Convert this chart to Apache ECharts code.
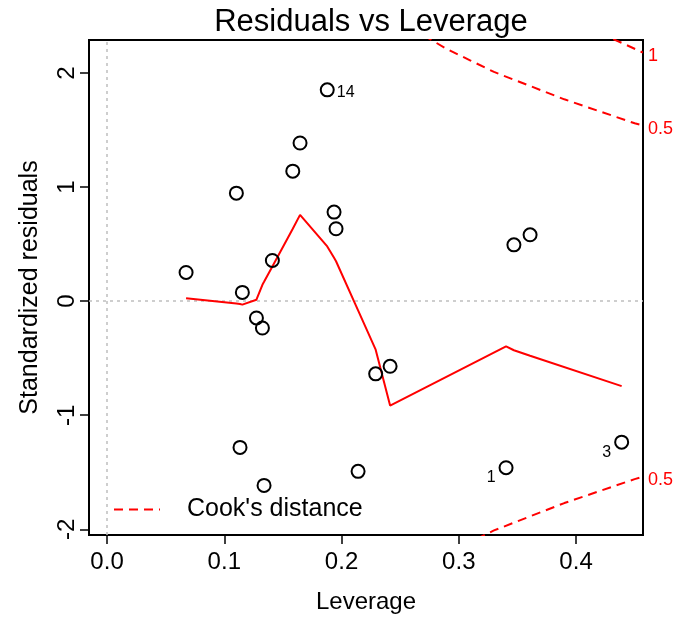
<!DOCTYPE html>
<html>
<head>
<meta charset="utf-8">
<script src="https://cdn.jsdelivr.net/npm/echarts@6/dist/echarts.min.js"></script>
<style>html,body{margin:0;padding:0;background:#fff}#c{width:691px;height:619px}</style>
</head>
<body>
<div id="c"></div>
<script>
// Observations: leverage (x) and standardized residuals (y)
const leverage  = [0.0674, 0.1103, 0.1134, 0.1154, 0.1274, 0.1325, 0.1339, 0.1410, 0.1584, 0.1646, 0.1878, 0.1936, 0.1953, 0.2141, 0.2291, 0.2414, 0.3403, 0.3470, 0.3608, 0.4389];
const residuals = [0.252, 0.947, -1.282, 0.077, -0.147, -0.235, -1.615, 0.357, 1.140, 1.387, 1.853, 0.781, 0.635, -1.492, -0.637, -0.571, -1.460, 0.494, 0.582, -1.236];
// Labelled observations (index into arrays above -> label text)
const pointLabels = { 10: "14", 16: "1", 19: "3" };

// Smoother (red line)
const smoothX = [0.0674, 0.1103, 0.1134, 0.1154, 0.1274, 0.1325, 0.1339, 0.1410, 0.1584, 0.1646, 0.1878, 0.1936, 0.1953, 0.2141, 0.2291, 0.2414, 0.3403, 0.3470, 0.3608, 0.4389];
const smoothY = [0.025, -0.021, -0.025, -0.030, 0.013, 0.144, 0.170, 0.305, 0.635, 0.757, 0.480, 0.380, 0.350, -0.080, -0.425, -0.915, -0.396, -0.430, -0.479, -0.745];

// Cook's distance contours
const cookLev      = [0.27, 0.29, 0.31, 0.33, 0.35, 0.37, 0.39, 0.41, 0.43, 0.45, 0.457];
const cook05Upper  = [2.33, 2.21, 2.11, 2.01, 1.93, 1.85, 1.77, 1.70, 1.63, 1.56, 1.54];
const cook05Lower  = [-2.33, -2.21, -2.11, -2.01, -1.93, -1.85, -1.77, -1.70, -1.63, -1.56, -1.54];
const cook1Lev     = [0.42, 0.44, 0.457];
const cook1Upper   = [2.35, 2.26, 2.18];

const xTicks = [0, 0.1, 0.2, 0.3, 0.4];
const yTicks = [-2, -1, 0, 1, 2];

const zip = (a, b) => a.map((v, i) => [v, b[i]]);
const FONT = "Liberation Sans, Arial, Helvetica, sans-serif";

const chart = echarts.init(document.getElementById('c'), null, { renderer: 'canvas' });

const scatterData = leverage.map((x, i) => {
  const item = { value: [x, residuals[i]] };
  const lab = pointLabels[i];
  if (lab !== undefined) {
    const right = lab === "14";
    item.label = {
      show: true,
      formatter: lab,
      position: right ? 'right' : 'left',
      distance: right ? 2 : 3,
      offset: right ? [0, 3] : [0, 10],
      color: '#000',
      opacity: 1,
      fontSize: 16,
      fontFamily: FONT
    };
  }
  return item;
});

const cookSeries = (name, xs, ys, endText) => ({
  name: name,
  type: 'line',
  data: zip(xs, ys),
  symbol: 'none',
  clip: true,
  silent: true,
  lineStyle: { color: '#ff0000', width: 2, type: [9, 6] },
  itemStyle: { color: '#ff0000' },
  endLabel: {
    show: true,
    formatter: endText,
    color: '#ff0000',
    fontSize: 18,
    fontFamily: FONT,
    distance: 5,
    offset: [0, 3]
  },
  z: 3
});

chart.setOption({
  animation: false,
  backgroundColor: '#fff',
  title: {
    text: 'Residuals vs Leverage',
    left: 366, textAlign: 'center',
    top: 2,
    textStyle: { fontSize: 31, fontWeight: 'normal', color: '#000', fontFamily: FONT }
  },
  grid: {
    left: 89, right: 48, top: 40, bottom: 83,
    show: true, borderColor: '#000', borderWidth: 2, backgroundColor: 'transparent'
  },
  legend: {
    data: ["Cook's distance"],
    left: 108, top: 492,
    itemWidth: 46, itemHeight: 14,
    itemStyle: { opacity: 0 },
    lineStyle: { color: '#ff0000', width: 2, type: [9, 6], opacity: 1 },
    textStyle: { fontSize: 25, color: '#000', fontFamily: FONT, padding: [0, 0, 0, 22] },
    selectedMode: false
  },
  xAxis: {
    type: 'value',
    min: -0.0154, max: 0.4571,
    name: 'Leverage', nameLocation: 'middle', nameGap: 55,
    nameTextStyle: { fontSize: 24, color: '#000', fontFamily: FONT },
    axisLine: { show: false, onZero: false },
    splitLine: { show: false },
    axisTick: { show: true, length: 9, inside: false, customValues: xTicks, lineStyle: { color: '#000', width: 1.5 } },
    axisLabel: { show: true, customValues: xTicks, formatter: v => v.toFixed(1), fontSize: 24, color: '#000', fontFamily: FONT, margin: 15 }
  },
  yAxis: {
    type: 'value',
    min: -2.05, max: 2.29,
    name: 'Standardized residuals', nameLocation: 'middle', nameGap: 46,
    nameTextStyle: { fontSize: 25, color: '#000', fontFamily: FONT },
    axisLine: { show: false, onZero: false },
    splitLine: { show: false },
    axisTick: { show: true, length: 9, inside: false, customValues: yTicks, lineStyle: { color: '#000', width: 1.5 } },
    axisLabel: { show: true, customValues: yTicks, rotate: 90, fontSize: 24, color: '#000', fontFamily: FONT, margin: 10 }
  },
  series: [
    {
      name: 'points',
      type: 'scatter',
      data: scatterData,
      symbol: 'circle',
      symbolSize: 13,
      itemStyle: { color: 'rgba(0,0,0,0)', borderColor: '#000', borderWidth: 2, opacity: 1 },
      z: 4,
      markLine: {
        silent: true,
        symbol: 'none',
        label: { show: false },
        lineStyle: { color: '#bebebe', width: 1.5, type: [3, 4] },
        data: [{ xAxis: 0 }, { yAxis: 0 }],
        z: 1
      }
    },
    {
      name: 'smooth',
      type: 'line',
      data: zip(smoothX, smoothY),
      symbol: 'none',
      silent: true,
      lineStyle: { color: '#ff0000', width: 2 },
      itemStyle: { color: '#ff0000' },
      z: 3
    },
    cookSeries("Cook's distance", cookLev, cook05Upper, '0.5'),
    cookSeries("Cook's distance", cookLev, cook05Lower, '0.5'),
    cookSeries("Cook's distance", cook1Lev, cook1Upper, '1')
  ]
});
</script>
</body>
</html>
